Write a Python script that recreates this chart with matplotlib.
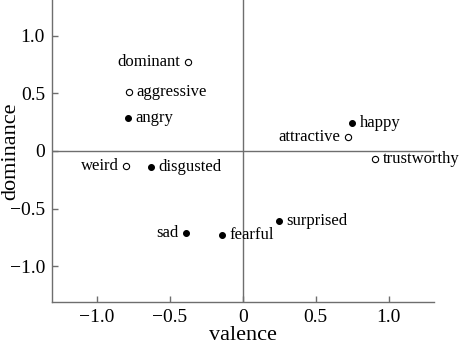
import matplotlib
matplotlib.use("Agg")
import matplotlib.pyplot as plt

words = ["dominant", "aggressive", "angry", "weird", "disgusted", "happy",
         "attractive", "trustworthy", "sad", "fearful", "surprised"]
valence = [-0.38, -0.78, -0.79, -0.80, -0.63, 0.75, 0.72, 0.91, -0.39, -0.145, 0.25]
dominance = [0.77, 0.51, 0.29, -0.13, -0.14, 0.24, 0.12, -0.07, -0.71, -0.73, -0.61]
# True = filled (emotion), False = open (trait)
filled = [False, False, True, False, True, True, False, False, True, True, True]
side = ["left", "right", "right", "left", "right", "right", "left", "right",
        "left", "right", "right"]

plt.rcParams["font.family"] = ["Liberation Serif", "DejaVu Serif"]
grey = "#6e6e6e"

fig = plt.figure(figsize=(4.6, 3.45), dpi=100)
ax = fig.add_axes([0.113, 0.125, 0.83, 0.875])

ax.axhline(0, color=grey, lw=1.0, zorder=1)
ax.axvline(0, color=grey, lw=1.0, zorder=1)

for w, v, d, f, s in zip(words, valence, dominance, filled, side):
    ax.plot(v, d, marker="o", ms=4.2 if f else 4.5, mec="black", mew=0.8,
            mfc="black" if f else "white", ls="", zorder=3)
    dx = 0.05 if s == "right" else -0.05
    ax.text(v + dx, d, w, ha="left" if s == "right" else "right",
            va="center", fontsize=12)

ax.set_xlim(-1.31, 1.31)
ax.set_ylim(-1.31, 1.31)
ax.set_xticks([-1.0, -0.5, 0, 0.5, 1.0])
ax.set_xticklabels(["\u22121.0", "\u22120.5", "0", "0.5", "1.0"])
ax.set_yticks([-1.0, -0.5, 0, 0.5, 1.0])
ax.set_yticklabels(["\u22121.0", "\u22120.5", "0", "0.5", "1.0"])
ax.tick_params(direction="in", length=4, width=1, color=grey, labelsize=14, pad=5)

for sp in ["top", "right"]:
    ax.spines[sp].set_visible(False)
for sp in ["left", "bottom"]:
    ax.spines[sp].set_color(grey)
    ax.spines[sp].set_linewidth(1.0)

ax.set_xlabel("valence", fontsize=16, labelpad=0)
ax.set_ylabel("dominance", fontsize=16)
ax.yaxis.set_label_coords(-0.082, 0.5)

fig.savefig("out.png", dpi=100)
